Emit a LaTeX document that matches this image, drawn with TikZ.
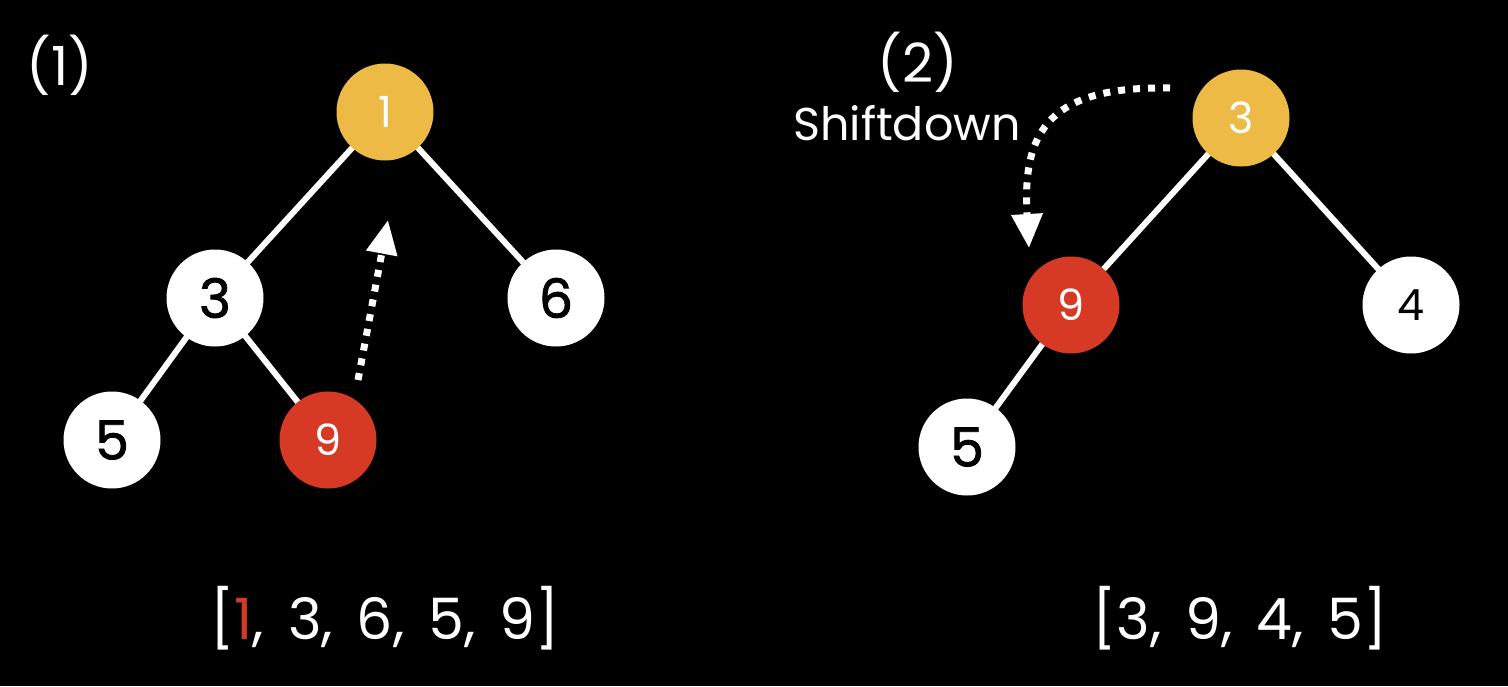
\documentclass[tikz,border=0pt]{standalone}
\usepackage{fontspec}
\setmainfont{Poppins}
\newfontfamily\nodefont[FakeBold=1.5]{Poppins}
\usetikzlibrary{arrows.meta}
\definecolor{heapyellow}{HTML}{EDBB45}
\definecolor{heapred}{HTML}{D63A25}
\newcommand\csep{,\hspace{24pt}}
\tikzset{
  hnode/.style={circle, minimum size=97pt, inner sep=0pt},
  wnode/.style={hnode, fill=white, text=black, font=\nodefont\fontsize{54}{60}\selectfont},
  ynode/.style={hnode, fill=heapyellow, text=white, font=\fontsize{43}{48}\selectfont},
  rnode/.style={hnode, fill=heapred, text=white, font=\fontsize{43}{48}\selectfont},
  edge/.style={draw=white, line width=6pt},
  dotarrow/.style={draw=white, line width=7pt, dash pattern=on 7pt off 8pt,
    -{Triangle[length=34pt,width=30pt]}},
  lbl/.style={text=white, font=\fontsize{54}{60}\selectfont},
  arr/.style={text=white, font=\fontsize{57}{64}\selectfont},
}
\begin{document}
\begin{tikzpicture}[x=1pt,y=-1pt]
\fill[black] (0,0) rectangle (1508,686);
\useasboundingbox (0,0) rectangle (1508,686);
% node positions
\coordinate (a1) at (385,112);
\coordinate (a3) at (215,298);
\coordinate (a6) at (556,298);
\coordinate (a5) at (112,440);
\coordinate (a9) at (328,440);
\coordinate (b3) at (1241,118);
\coordinate (b9) at (1071,305);
\coordinate (b4) at (1411,305);
\coordinate (b5) at (967,447);
% edges
\draw[edge] (a1) -- (a3);
\draw[edge] (a1) -- (a6);
\draw[edge] (a3) -- (a5);
\draw[edge] (a3) -- (a9);
\draw[edge] (b3) -- (b9);
\draw[edge] (b3) -- (b4);
\draw[edge] (b9) -- (b5);
% nodes
\node[ynode] (n1) at (a1) {1};
\node[wnode] (n3) at (a3) {3};
\node[wnode] (n6) at (a6) {6};
\node[wnode] (n5) at (a5) {5};
\node[rnode] (n9) at (a9) {9};
\node[ynode] (m3) at (b3) {3};
\node[rnode] (m9) at (b9) {9};
\node[hnode, fill=white, text=black, font=\fontsize{43}{48}\selectfont] (m4) at (b4) {4};
\node[wnode] (m5) at (b5) {5};
% arrows
\coordinate (p1s) at (358,380);
\coordinate (p1e) at (388,220);
\draw[dotarrow] (p1s) -- (p1e);
\coordinate (p2s) at (1170,88);
\coordinate (p2e) at (1029,248);
\draw[dotarrow] (p2s) .. controls (1050,86) and (1022,130) .. (p2e);
% labels
\node[lbl] (l1) at (60,65) {(1)};
\node[lbl] (l2) at (918,62) {(2)};
\node[text=white, font=\fontsize{46}{52}\selectfont] (sd) at (907,123) {Shiftdown};
\node[arr] (arr1) at (385,618) {[\textcolor{heapred}{1}\csep 3\csep 6\csep 5\csep 9]};
\node[arr] (arr2) at (1240,618) {[3\csep 9\csep 4\csep 5]};
\end{tikzpicture}
\end{document}
